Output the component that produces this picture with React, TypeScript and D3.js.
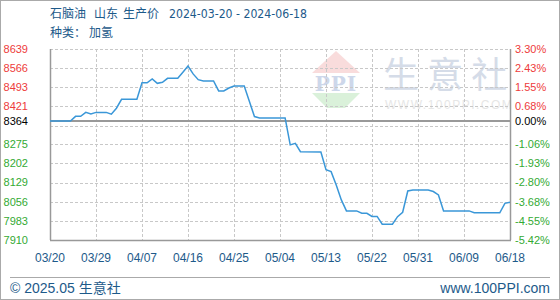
import React from "react";
import * as d3 from "d3";

const dates = [
  "2024-03-20","2024-03-24","2024-03-25","2024-03-26","2024-03-27","2024-03-28","2024-03-29",
  "2024-03-31","2024-04-01","2024-04-02","2024-04-03","2024-04-06","2024-04-07","2024-04-08",
  "2024-04-09","2024-04-10","2024-04-11","2024-04-12","2024-04-14","2024-04-15","2024-04-16",
  "2024-04-17","2024-04-18","2024-04-19","2024-04-21","2024-04-22","2024-04-23","2024-04-24",
  "2024-04-25","2024-04-27","2024-04-28","2024-04-29","2024-04-30","2024-05-05","2024-05-06",
  "2024-05-07","2024-05-08","2024-05-12","2024-05-13","2024-05-14","2024-05-15","2024-05-16",
  "2024-05-17","2024-05-19","2024-05-20","2024-05-21","2024-05-22","2024-05-23","2024-05-24",
  "2024-05-26","2024-05-27","2024-05-28","2024-05-29","2024-05-30","2024-06-02","2024-06-03",
  "2024-06-04","2024-06-05","2024-06-10","2024-06-11","2024-06-16","2024-06-17","2024-06-18",
];
const values = [
  8364, 8364, 8382, 8382, 8397, 8391, 8397,
  8397, 8390, 8413, 8447, 8447, 8510, 8510,
  8525, 8508, 8512, 8527, 8527, 8550, 8574,
  8544, 8522, 8517, 8517, 8479, 8479, 8490,
  8498, 8498, 8440, 8381, 8376, 8376, 8273,
  8279, 8247, 8246, 8178, 8171, 8120, 8063,
  8021, 8021, 8012, 8012, 8000, 8000, 7970,
  7970, 7999, 8016, 8097, 8101, 8101, 8095,
  8082, 8021, 8021, 8014, 8014, 8050, 8054,
];

const baseValue = 8364;
const leftTicks = [8639, 8566, 8493, 8421, 8364, 8275, 8202, 8129, 8056, 7983, 7910];
const rightTicks = ["3.30%", "2.43%", "1.55%", "0.68%", "0.00%", "-1.06%", "-1.93%", "-2.80%", "-3.68%", "-4.55%", "-5.42%"];
const gridValues = [7910, 7983, 8056, 8129, 8202, 8275, 8347, 8420, 8493, 8566, 8639];
const xTickLabels = ["03/20", "03/29", "04/07", "04/16", "04/25", "05/04", "05/13", "05/22", "05/31", "06/09", "06/18"];
const xTickDates = ["2024-03-20", "2024-03-29", "2024-04-07", "2024-04-16", "2024-04-25", "2024-05-04", "2024-05-13", "2024-05-22", "2024-05-31", "2024-06-09", "2024-06-18"];

const W = 560, H = 300;
const L = 50, R = 510, T = 49, B = 240;

const parse = d3.timeParse("%Y-%m-%d");
const RED = "#ee3b3b", GREEN = "#33aa33", BLUE_TXT = "#1d5a8a";

export default function App() {
  const x = d3.scaleTime().domain([parse(xTickDates[0])!, parse(xTickDates[xTickDates.length - 1])!]).range([L, R]);
  const y = d3.scaleLinear().domain([7910, 8639]).range([B, T]);
  const pts: [Date, number][] = dates.map((d, i) => [parse(d)!, values[i]]);
  const line = d3.line<[Date, number]>().x(d => x(d[0])).y(d => y(d[1]));
  const colorFor = (v: number) => (v > baseValue ? RED : v < baseValue ? GREEN : "#000");
  const axisFont = "'Liberation Sans', Arial, sans-serif";
  const cjk = "'Noto Sans CJK SC', sans-serif";

  return (
    <svg width={W} height={H} style={{ position: "absolute", left: 0, top: 0, background: "#fff" }}>
      <rect x={0.5} y={0.5} width={W - 1} height={H - 1} fill="#fff" stroke="#aaa" />
      {/* title */}
      <text y={18} fill={BLUE_TXT} fontSize={12} fontFamily={cjk}>
        <tspan x={50}>石脑油</tspan>
        <tspan x={94}>山东</tspan>
        <tspan x={123}>生产价</tspan>
      </text>
      <text x={169} y={18} fill={BLUE_TXT} fontSize={12} fontFamily="'DejaVu Sans', sans-serif" textLength={138} lengthAdjust="spacingAndGlyphs">2024-03-20 - 2024-06-18</text>
      <text y={37} fill={BLUE_TXT} fontSize={12} fontFamily={cjk}>
        <tspan x={50}>种类：</tspan>
        <tspan x={89}>加氢</tspan>
      </text>

      {/* watermark */}
      <g>
        <path d="M312,73 L336,51 L360,73 Z" fill="#f9dcdc" />
        <path d="M312,93 L360,93 L345,108 L327,108 Z" fill="#daf1da" />
        <text x={336} y={91} textAnchor="middle" fontSize={20} fontWeight="bold" fontFamily="'DejaVu Serif', serif" fill="#cdd7ea" letterSpacing={1}>PPI</text>
        <text x={383} y={88} fontSize={36} fontFamily={cjk} fill="#d5dce8">生 意 社</text>
        <text x={385} y={109} fontSize={12} fontFamily={axisFont} fill="#e6e6e6" letterSpacing={1.5}>WWW.100PPI.COM</text>
      </g>

      {/* grid */}
      {gridValues.map((g, i) => (
        <line key={"g" + i} x1={L} x2={R} y1={Math.round(y(g)) + 0.5} y2={Math.round(y(g)) + 0.5} stroke="#c8c8c8" strokeDasharray="3,2" />
      ))}
      {xTickDates.map((d, i) => (
        <line key={"v" + i} x1={Math.round(x(parse(d)!)) + 0.5} x2={Math.round(x(parse(d)!)) + 0.5} y1={T} y2={B} stroke="#c8c8c8" strokeDasharray="3,2" />
      ))}
      {/* base line */}
      <line x1={L} x2={R} y1={y(baseValue)} y2={y(baseValue)} stroke="#999" strokeWidth={2} />
      {/* axes */}
      <line x1={L + 0.5} x2={L + 0.5} y1={T} y2={B} stroke="#999" strokeWidth={1.5} />
      <line x1={R + 0.5} x2={R + 0.5} y1={T} y2={B} stroke="#999" strokeWidth={1.5} />
      <line x1={L} x2={R + 1} y1={B + 0.5} y2={B + 0.5} stroke="#999" strokeWidth={1.5} />

      {/* series */}
      <path d={line(pts)!} fill="none" stroke="#3a97d8" strokeWidth={1.5} />

      {/* left ticks */}
      {leftTicks.map((v, i) => (
        <text key={"l" + i} x={28} y={y(v)} dy="0.35em" textAnchor="end" fontSize={11} fontFamily={axisFont} fill={colorFor(v)}>{v}</text>
      ))}
      {rightTicks.map((s, i) => (
        <text key={"r" + i} x={515} y={y(leftTicks[i])} dy="0.35em" fontSize={11} fontFamily={axisFont} fill={colorFor(leftTicks[i])}>{s}</text>
      ))}
      {xTickLabels.map((s, i) => (
        <text key={"x" + i} x={x(parse(xTickDates[i])!)} y={262} textAnchor="middle" fontSize={12} fontFamily={axisFont} fill={BLUE_TXT}>{s}</text>
      ))}

      {/* footer */}
      <line x1={10} x2={550} y1={277.5} y2={277.5} stroke="#aaa" />
      <text x={10} y={293} fontSize={14} fontFamily={`${axisFont}, ${cjk}`} fill={BLUE_TXT}>
        © 2025.05 <tspan fontFamily={cjk}>生意社</tspan>
      </text>
      <text x={550} y={293} textAnchor="end" fontSize={14} fontFamily={axisFont} fill={BLUE_TXT}>www.100PPI.com</text>
    </svg>
  );
}
